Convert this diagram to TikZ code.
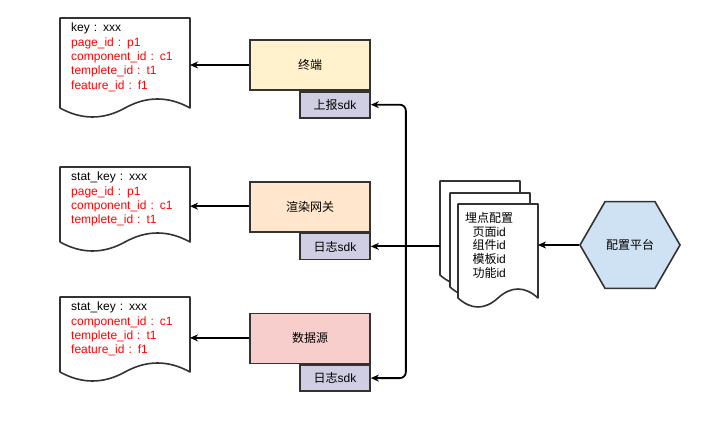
\documentclass[tikz,border=0pt]{standalone}
\usepackage{fontspec}
\setmainfont{Liberation Sans}
\newfontfamily\cjk{Noto Sans CJK SC}
\usepackage{tikz}
\usetikzlibrary{shapes.geometric, arrows.meta, positioning, calc, backgrounds}

\definecolor{boxline}{HTML}{333333}
\definecolor{termfill}{HTML}{FFF2CC}
\definecolor{gatefill}{HTML}{FFE6CC}
\definecolor{srcfill}{HTML}{F8CECC}
\definecolor{sdkfill}{HTML}{D0CEE2}
\definecolor{hexfill}{HTML}{CFE2F3}
\definecolor{fieldred}{HTML}{FF0000}

\newcommand\fld[1]{\textcolor{fieldred}{#1}}

% document outline with wavy bottom: node, width, height
\newcommand\docoutline[3]{%
  \coordinate (#1-ne) at ([xshift=#2]#1.north west);
  \coordinate (#1-se) at ([xshift=#2, yshift=-#3]#1.north west);
  \coordinate (#1-sw) at ([yshift=-#3]#1.north west);
  \draw[docline] (#1.north west) -- (#1-ne) -- ([yshift=10pt]#1-se)
    .. controls ($(#1-se)!1/6!(#1-sw)+(0,22pt)$) and ($(#1-se)!1/3!(#1-sw)+(0,22pt)$)
    .. ($(#1-se)!0.5!(#1-sw)+(0,10pt)$)
    .. controls ($(#1-se)!2/3!(#1-sw)+(0,-2pt)$) and ($(#1-se)!5/6!(#1-sw)+(0,-2pt)$)
    .. ([yshift=10pt]#1-sw) -- cycle;
}

\begin{document}
\begin{tikzpicture}[x=1pt, y=1pt,
        stage/.style={rectangle, draw=boxline, line width=1.7pt, minimum width=120pt, minimum height=50pt, align=center, font=\fontsize{12}{14}\selectfont},
        sdk/.style={rectangle, draw=boxline, line width=1.7pt, fill=sdkfill, minimum width=70pt, minimum height=26pt, align=center, font=\fontsize{12}{14}\selectfont},
        doc/.style={anchor=north west, text width=108pt, inner xsep=11pt, inner ysep=5pt, align=left, font=\fontsize{12}{14.3}\selectfont},
        stackdoc/.style={anchor=north west, inner sep=0pt, minimum size=0pt},
        docline/.style={draw=boxline, line width=1.6pt, fill=white, line join=round},
        hexa/.style={regular polygon, regular polygon sides=6, minimum size=100pt, inner sep=0pt, draw=boxline, line width=1.6pt, fill=hexfill, font=\fontsize{12}{14}\selectfont},
        arrow/.style={line width=1.8pt, -{Stealth[length=8pt, width=7pt, inset=2.5pt]}}
        ]
        \useasboundingbox (0,0) rectangle (706,423);

        % Nodes
        \node (term) [stage, fill=termfill] at (310,358) {{\cjk 终端}};
        \node (termsdk) [sdk, below left=0pt and 0pt of term.south east] {{\cjk 上报}sdk};

        \node (gateway) [stage, fill=gatefill, below=90pt of term] {{\cjk 渲染网关}};
        \node (gatesdk) [sdk, below left=0pt and 0pt of gateway.south east] {{\cjk 日志}sdk};

        \node (source) [stage, fill=srcfill, below=80pt of gateway] {{\cjk 数据源}};
        \node (srcsdk) [sdk, below left=0pt and 0pt of source.south east] {{\cjk 日志}sdk};

        \node (keydoc) [doc] at (60,405) {key : xxx\\ \fld{page\_id : p1}\\ \fld{component\_id : c1}\\ \fld{templete\_id : t1}\\ \fld{feature\_id : f1}};
        \node (gatedoc) [doc] at (60,256) {stat\_key : xxx\\ \fld{page\_id : p1}\\ \fld{component\_id : c1}\\ \fld{templete\_id : t1}};
        \node (srcdoc) [doc] at (60,126) {stat\_key : xxx\\ \fld{component\_id : c1}\\ \fld{templete\_id : t1}\\ \fld{feature\_id : f1}};

        \node (cfgback) [stackdoc] at (440,242) {};
        \node (cfgmid) [stackdoc] at (450,230) {};
        \node (cfgfront) [anchor=north west, text width=62pt, inner xsep=0pt, inner ysep=8pt, align=center, font=\fontsize{12}{13.8}\selectfont] at (458,219)
            {{\cjk 埋点配置}\\ {\cjk 页面}id\\ {\cjk 组件}id\\ {\cjk 模板}id\\ {\cjk 功能}id};

        \node (platform) [hexa] at (630,178) {{\cjk 配置平台}};

        % Document outlines
        \begin{scope}[on background layer]
            \docoutline{keydoc}{130pt}{100pt}
            \docoutline{gatedoc}{130pt}{85pt}
            \docoutline{srcdoc}{130pt}{85pt}
            \docoutline{cfgback}{80pt}{104pt}
            \docoutline{cfgmid}{80pt}{104pt}
            \docoutline{cfgfront}{80pt}{104pt}
        \end{scope}

        % Arrows
        \draw [arrow] (term.west) -- (term.west -| keydoc-ne);
        \draw [arrow] ([yshift=0.5pt]gateway.west) -- ([yshift=0.5pt]gateway.west -| gatedoc-ne);
        \draw [arrow] ([yshift=0.5pt]source.west) -- ([yshift=0.5pt]source.west -| srcdoc-ne);

        \coordinate (bus) at ($(gatesdk.east)+(35pt,0)$);
        \draw [arrow] (gatesdk -| cfgback.west) -- (gatesdk.east);
        \draw [arrow, rounded corners=6pt] (bus) |- (termsdk.east);
        \draw [arrow, rounded corners=6pt] (bus) |- (srcsdk.east);

        \draw [arrow] (platform.west) -- (platform.west -| cfgfront-ne);

\end{tikzpicture}
\end{document}
